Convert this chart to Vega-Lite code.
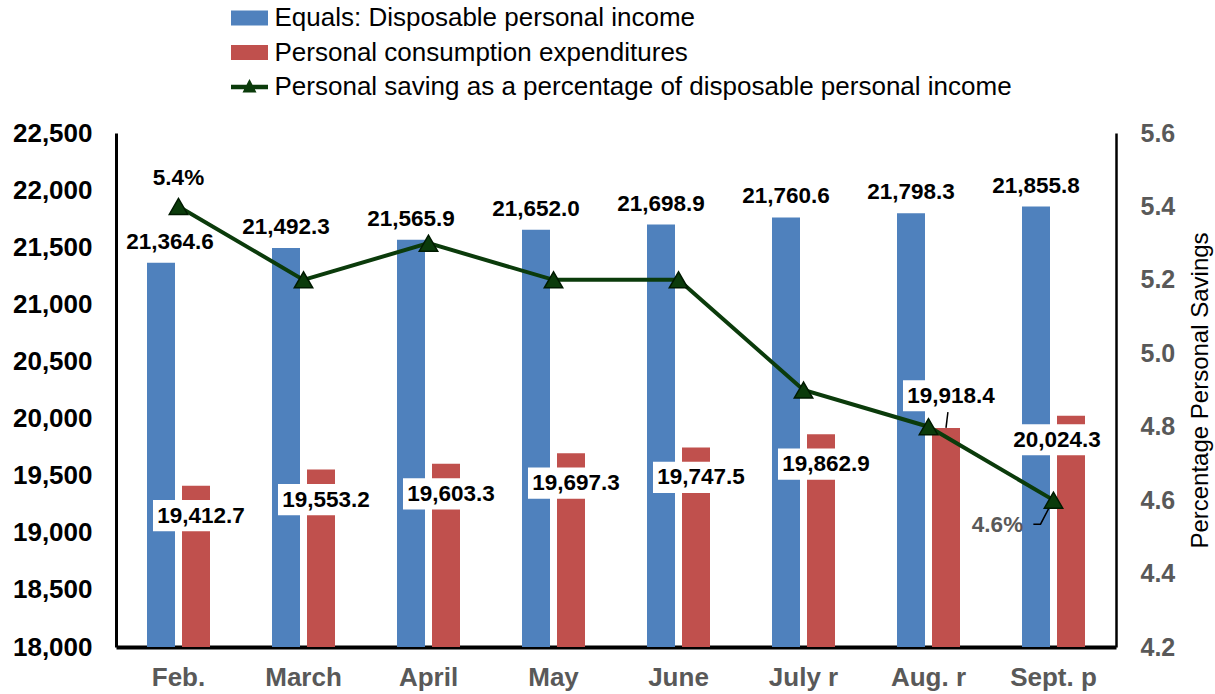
{
  "$schema": "https://vega.github.io/schema/vega-lite/v6.json",
  "width": 1000,
  "height": 514,
  "autosize": {"type": "none"},
  "padding": {"left": 116, "top": 133, "right": 99, "bottom": 47},
  "background": "white",
  "config": {
    "view": {"stroke": null},
    "font": "Liberation Sans",
    "axis": {"grid": false, "ticks": false}
  },
  "data": {
    "values": [
      {"month": "Feb.", "Equals: Disposable personal income": 21364.6, "Personal consumption expenditures": 19412.7, "saving": 5.4},
      {"month": "March", "Equals: Disposable personal income": 21492.3, "Personal consumption expenditures": 19553.2, "saving": 5.2},
      {"month": "April", "Equals: Disposable personal income": 21565.9, "Personal consumption expenditures": 19603.3, "saving": 5.3},
      {"month": "May", "Equals: Disposable personal income": 21652.0, "Personal consumption expenditures": 19697.3, "saving": 5.2},
      {"month": "June", "Equals: Disposable personal income": 21698.9, "Personal consumption expenditures": 19747.5, "saving": 5.2},
      {"month": "July r", "Equals: Disposable personal income": 21760.6, "Personal consumption expenditures": 19862.9, "saving": 4.9},
      {"month": "Aug. r", "Equals: Disposable personal income": 21798.3, "Personal consumption expenditures": 19918.4, "saving": 4.8},
      {"month": "Sept. p", "Equals: Disposable personal income": 21855.8, "Personal consumption expenditures": 20024.3, "saving": 4.6}
    ]
  },
  "encoding": {
    "x": {
      "field": "month",
      "type": "nominal",
      "sort": null,
      "scale": {
        "domain": ["Feb.", "March", "April", "May", "June", "July r", "Aug. r", "Sept. p"],
        "paddingInner": 0.496,
        "paddingOuter": 0.248
      },
      "axis": {
        "orient": "bottom",
        "title": null,
        "labelAngle": 0,
        "labelFont": "Liberation Sans",
        "labelFontSize": 26,
        "labelFontWeight": "bold",
        "labelColor": "#595959",
        "labelPadding": 17,
        "domainColor": "black",
        "domainWidth": 4
      }
    }
  },
  "layer": [
    {
      "transform": [
        {"fold": ["Equals: Disposable personal income", "Personal consumption expenditures"], "as": ["series", "value"]}
      ],
      "encoding": {
        "xOffset": {
          "field": "series",
          "type": "nominal",
          "scale": {
            "domain": ["Equals: Disposable personal income", "Personal consumption expenditures"],
            "paddingInner": 0.2,
            "paddingOuter": 0
          }
        },
        "y": {
          "field": "value",
          "type": "quantitative",
          "scale": {"domain": [18000, 22500], "zero": false, "nice": false},
          "axis": {
            "orient": "left",
            "title": null,
            "values": [18000, 18500, 19000, 19500, 20000, 20500, 21000, 21500, 22000, 22500],
            "format": ",d",
            "labelFont": "Liberation Sans",
            "labelFontSize": 26,
            "labelFontWeight": "bold",
            "labelColor": "black",
            "labelPadding": 24,
            "domainColor": "black",
            "domainWidth": 3
          }
        }
      },
      "layer": [
        {
          "mark": {"type": "bar"},
          "encoding": {
            "y2": {"datum": 18000},
            "color": {
              "field": "series",
              "type": "nominal",
              "scale": {
                "domain": ["Equals: Disposable personal income", "Personal consumption expenditures", "Personal saving as a percentage of disposable personal income"],
                "range": ["#4F81BD", "#C0504D", "#0b3b0b"]
              },
              "legend": {
                "orient": "none",
                "legendX": 120.5,
                "legendY": -128,
                "title": null,
                "padding": 0,
                "labelFont": "Liberation Sans",
                "labelFontSize": 26,
                "labelColor": "black",
                "labelLimit": 1000,
                "labelOffset": 12,
                "symbolSize": 400,
                "rowPadding": 8.5,
                "encode": {
                  "symbols": {
                    "update": {
                      "shape": {"signal": "datum.value === 'Personal saving as a percentage of disposable personal income' ? 'M-1.85,-0.22H1.85V0.22H-1.85Z M-0.7,0.55L0,-0.8L0.7,0.55Z' : 'M-1.85,-0.75H1.85V0.75H-1.85Z'"},
                      "fill": {"signal": "scale('color', datum.value)"},
                      "strokeWidth": {"value": 0},
                      "opacity": {"value": 1}
                    }
                  }
                }
              }
            }
          }
        },
        {
          "transform": [{"filter": "datum.series === 'Personal consumption expenditures' && datum.month !== 'Aug. r' && datum.month !== 'Sept. p'"}],
          "mark": {"type": "point", "shape": "M-0.896,0.3H1.104V0.95H-0.896Z", "size": 9216, "filled": true, "fill": "white", "opacity": 1, "strokeWidth": 0}
        },
        {
          "transform": [{"filter": "datum.series === 'Personal consumption expenditures' && datum.month === 'Aug. r'"}],
          "mark": {"type": "point", "shape": "M-0.896,-0.99H1.104V-0.344H-0.896Z", "size": 9216, "filled": true, "fill": "white", "opacity": 1, "strokeWidth": 0}
        },
        {
          "transform": [{"filter": "datum.series === 'Personal consumption expenditures' && datum.month === 'Sept. p'"}],
          "mark": {"type": "point", "shape": "M-1.29,0.177H0.708V0.823H-1.29Z", "size": 9216, "filled": true, "fill": "white", "opacity": 1, "strokeWidth": 0}
        },
        {
          "transform": [{"filter": "datum.series === 'Personal consumption expenditures' && datum.month === 'Aug. r'"}],
          "mark": {"type": "point", "shape": "M0.04,-0.33L0.0,0", "size": 9216, "filled": false, "stroke": "black", "strokeWidth": 1.5, "opacity": 1}
        },
        {
          "transform": [{"filter": "datum.series === 'Personal consumption expenditures' && datum.month !== 'Aug. r' && datum.month !== 'Sept. p'"}],
          "mark": {"type": "text", "baseline": "middle", "align": "center", "dx": 5, "dy": 30, "font": "Liberation Sans", "fontSize": 22.5, "fontWeight": "bold", "color": "black"},
          "encoding": {"text": {"field": "value", "type": "quantitative", "format": ",.1f"}}
        },
        {
          "transform": [{"filter": "datum.series === 'Personal consumption expenditures' && datum.month === 'Aug. r'"}],
          "mark": {"type": "text", "baseline": "middle", "align": "center", "dx": 5, "dy": -32, "font": "Liberation Sans", "fontSize": 22.5, "fontWeight": "bold", "color": "black"},
          "encoding": {"text": {"field": "value", "type": "quantitative", "format": ",.1f"}}
        },
        {
          "transform": [{"filter": "datum.series === 'Personal consumption expenditures' && datum.month === 'Sept. p'"}],
          "mark": {"type": "text", "baseline": "middle", "align": "center", "dx": -14, "dy": 24, "font": "Liberation Sans", "fontSize": 22.5, "fontWeight": "bold", "color": "black"},
          "encoding": {"text": {"field": "value", "type": "quantitative", "format": ",.1f"}}
        },
        {
          "transform": [{"filter": "datum.series === 'Equals: Disposable personal income' && datum.month !== 'Feb.'"}],
          "mark": {"type": "text", "baseline": "middle", "align": "center", "dy": -21, "font": "Liberation Sans", "fontSize": 22.5, "fontWeight": "bold", "color": "black"},
          "encoding": {"text": {"field": "value", "type": "quantitative", "format": ",.1f"}}
        },
        {
          "transform": [{"filter": "datum.series === 'Equals: Disposable personal income' && datum.month === 'Feb.'"}],
          "mark": {"type": "text", "baseline": "middle", "align": "center", "dx": 9, "dy": -21, "font": "Liberation Sans", "fontSize": 22.5, "fontWeight": "bold", "color": "black"},
          "encoding": {"text": {"field": "value", "type": "quantitative", "format": ",.1f"}}
        }
      ]
    },
    {
      "encoding": {
        "y": {
          "field": "saving",
          "type": "quantitative",
          "scale": {"domain": [4.2, 5.6], "zero": false, "nice": false},
          "axis": {
            "orient": "right",
            "values": [4.2, 4.4, 4.6, 4.8, 5.0, 5.2, 5.4, 5.6],
            "format": ".1f",
            "labelFont": "Liberation Sans",
            "labelFontSize": 25,
            "labelFontWeight": "bold",
            "labelColor": "#595959",
            "labelPadding": 24,
            "domainColor": "black",
            "domainWidth": 2.5,
            "title": "Percentage Personal Savings",
            "titleFont": "Liberation Sans",
            "titleFontSize": 24,
            "titleFontWeight": "normal",
            "titleColor": "black",
            "titleAngle": 270,
            "titleBaseline": "top",
            "titlePadding": 14
          }
        }
      },
      "layer": [
        {
          "mark": {"type": "line", "strokeWidth": 4},
          "encoding": {"color": {"datum": "Personal saving as a percentage of disposable personal income"}}
        },
        {
          "transform": [{"filter": "datum.month === 'Sept. p'"}],
          "mark": {"type": "point", "shape": "M-0.04,0.06L-0.27,0.5L-0.42,0.5", "size": 9216, "filled": false, "stroke": "black", "strokeWidth": 1.5, "opacity": 1}
        },
        {
          "mark": {"type": "point", "shape": "triangle-up", "size": 340, "filled": true, "fill": "#0b3b0b", "stroke": "#001a00", "strokeWidth": 1.5, "opacity": 1}
        },
        {
          "transform": [
            {"filter": "datum.month === 'Feb.'"},
            {"calculate": "format(datum.saving, '.1f') + '%'", "as": "pct"}
          ],
          "mark": {"type": "text", "baseline": "middle", "align": "center", "dy": -28, "font": "Liberation Sans", "fontSize": 22.5, "fontWeight": "bold", "color": "black"},
          "encoding": {"text": {"field": "pct", "type": "nominal"}}
        },
        {
          "transform": [
            {"filter": "datum.month === 'Sept. p'"},
            {"calculate": "format(datum.saving, '.1f') + '%'", "as": "pct"}
          ],
          "mark": {"type": "text", "baseline": "middle", "align": "center", "dx": -56, "dy": 25, "font": "Liberation Sans", "fontSize": 22.5, "fontWeight": "bold", "color": "#595959"},
          "encoding": {"text": {"field": "pct", "type": "nominal"}}
        }
      ]
    }
  ],
  "resolve": {"scale": {"y": "independent"}}
}
